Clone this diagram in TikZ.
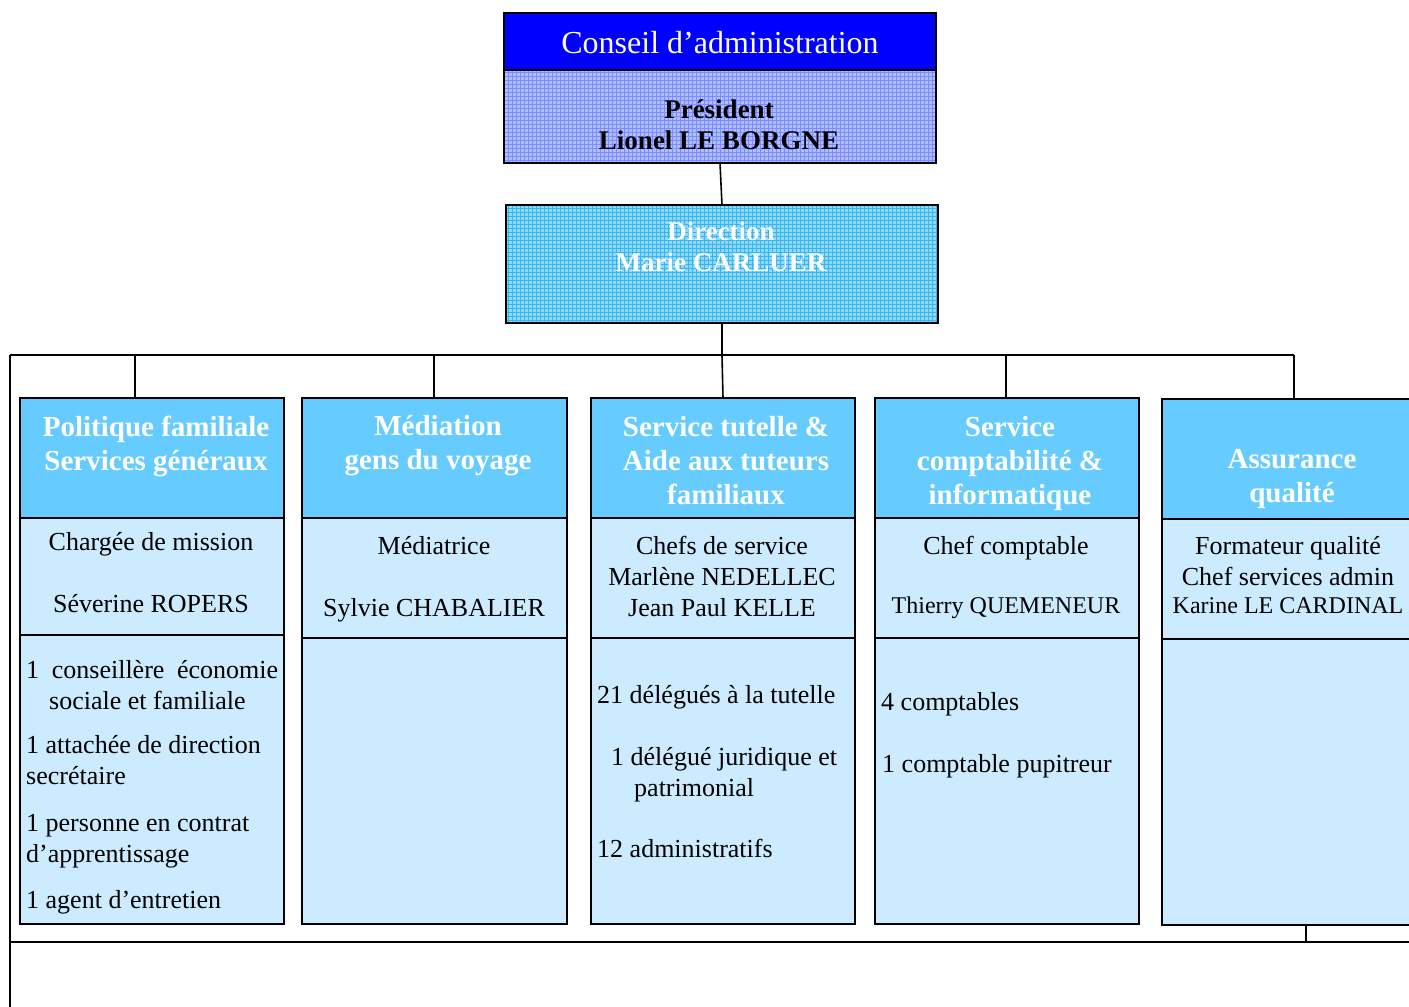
\documentclass[tikz,border=0pt]{standalone}
\usepackage{fontspec}
\setmainfont{Liberation Serif}
\definecolor{hdrblue}{HTML}{66CCFF}
\definecolor{bodyblue}{HTML}{CCEBFF}
\definecolor{darkblue}{HTML}{0000FF}
\definecolor{presfill}{HTML}{B0BDFF}
\definecolor{presgrid}{HTML}{7A8CFF}
\definecolor{dirfill}{HTML}{8FD8FF}
\definecolor{dirgrid}{HTML}{36B4EE}
\begin{document}
\begin{tikzpicture}[x=1pt,y=-1pt,
  boxline/.style={draw=black,line width=2pt},
  shape box/.style={inner sep=0pt,outer sep=0pt,anchor=north west},
  hdr/.style={shape box,boxline,fill=hdrblue,minimum height=120pt},
  bodybox/.style={shape box,boxline,fill=bodyblue},
  conn/.style={draw=black,line width=1.6pt},
  htxt/.style={text=white,font=\fontsize{29}{34}\selectfont\bfseries,align=center,inner sep=0pt},
  btxt/.style={font=\fontsize{26}{31}\selectfont,align=center,inner sep=0pt},
  stxt/.style={font=\fontsize{24}{30}\selectfont,align=center,inner sep=0pt},
  ltxt/.style={font=\fontsize{26}{31}\selectfont,anchor=west,inner sep=0pt,text height=18pt,text depth=6pt},
]
\clip (0,0) rectangle (1409,1007);
\fill[white] (0,0) rectangle (1409,1007);

% ---------- Conseil d'administration ----------
\node[shape box,fill=darkblue,minimum width=432pt,minimum height=57pt] (ca) at (504,13) {};
\node[shape box,fill=presfill,minimum width=432pt,minimum height=93pt] (cb) at (504,70) {};
\begin{scope}
  \clip (cb.north west) rectangle (cb.south east);
  \draw[presgrid,line width=0.7pt,step=4pt] (cb.north west) grid (cb.south east);
\end{scope}
\draw[boxline] (ca.north west) rectangle (cb.south east);
\draw[boxline] (ca.south west) -- (ca.south east);
\node[text=white,font=\fontsize{32}{38}\selectfont,inner sep=0pt] (catxt) at (720,43) {Conseil d’administration};
\node[font=\fontsize{27}{31}\selectfont\bfseries,align=center,inner sep=0pt] (cbtxt) at (719,125) {Président\\Lionel LE BORGNE};

% ---------- Direction ----------
\node[shape box,fill=dirfill,minimum width=432pt,minimum height=118pt] (dir) at (506,205) {};
\begin{scope}
  \clip (dir.north west) rectangle (dir.south east);
  \draw[dirgrid,line width=0.7pt,step=4pt] (dir.north west) grid (dir.south east);
\end{scope}
\draw[boxline] (dir.north west) rectangle (dir.south east);
\node[text=white,font=\fontsize{27}{31}\selectfont\bfseries,align=center,inner sep=0pt] (dirtxt) at (721,247) {Direction\\Marie CARLUER};

% ---------- Column boxes ----------
% column 1
\node[hdr,minimum width=264pt] (h1) at (20,398) {};
\node[bodybox,minimum width=264pt,minimum height=117pt] (m1) at (20,518) {};
\node[bodybox,minimum width=264pt,minimum height=289pt] (l1) at (20,635) {};
% column 2
\node[hdr,minimum width=265pt] (h2) at (302,398) {};
\node[bodybox,minimum width=265pt,minimum height=120pt] (m2) at (302,518) {};
\node[bodybox,minimum width=265pt,minimum height=286pt] (l2) at (302,638) {};
% column 3
\node[hdr,minimum width=264pt] (h3) at (591,398) {};
\node[bodybox,minimum width=264pt,minimum height=120pt] (m3) at (591,518) {};
\node[bodybox,minimum width=264pt,minimum height=286pt] (l3) at (591,638) {};
% column 4
\node[hdr,minimum width=264pt] (h4) at (875,398) {};
\node[bodybox,minimum width=264pt,minimum height=120pt] (m4) at (875,518) {};
\node[bodybox,minimum width=264pt,minimum height=286pt] (l4) at (875,638) {};
% column 5
\node[hdr,minimum width=264pt] (h5) at (1162,399) {};
\node[bodybox,minimum width=264pt,minimum height=120pt] (m5) at (1162,519) {};
\node[bodybox,minimum width=264pt,minimum height=286pt] (l5) at (1162,639) {};

% ---------- Connectors ----------
\coordinate (barL) at (10,355);
\coordinate (barR) at (1294,355);
\coordinate (d1) at (135,355);
\coordinate (d2) at (434,355);
\coordinate (d3) at (722,355);
\coordinate (d4) at (1006,355);
\coordinate (d5) at (1294,355);
\coordinate (leftEnd) at (10,1007);
\coordinate (botL) at (10,942);
\coordinate (botR) at (1409,942);
\coordinate (t5) at (1306,942);

\draw[conn] (cb.south) -- (dir.north);
\draw[conn] (dir.south) -- (d3) -- (h3.north);
\draw[conn] (barL) -- (barR);
\draw[conn] (barL) -- (leftEnd);
\draw[conn] (d1) -- (d1 |- h1.north);
\draw[conn] (d2) -- (d2 |- h2.north);
\draw[conn] (d4) -- (d4 |- h4.north);
\draw[conn] (d5) -- (h5.north);
\draw[conn] (botL) -- (botR);
\draw[conn] (t5 |- l5.south) -- (t5);

% ---------- Header texts ----------
\node[htxt] (h1t) at (156,446) {Politique familiale\\Services généraux};
\node[htxt] (h2t) at (438,446) {Médiation\\gens du voyage};
\node[htxt] (h3t) at (726,461) {Service tutelle \&\\Aide aux tuteurs\\familiaux};
\node[htxt] (h4t) at (1010,464) {Service\\comptabilité \&\\informatique};
\node[htxt] (h5t) at (1292,479) {Assurance\\qualité};

% ---------- Middle texts ----------
\node[btxt] (m1t) at (151,573) {Chargée de mission\\[31pt]Séverine ROPERS};
\node[btxt] (m2t) at (434,579) {Médiatrice\\[31pt]Sylvie CHABALIER};
\node[btxt] (m3t) at (722,576) {Chefs de service\\Marlène NEDELLEC\\Jean Paul KELLE};
\node[btxt] (m4a) at (1006,548) {Chef comptable};
\node[stxt] (m4b) at (1006,608) {Thierry QUEMENEUR};
\node[btxt] (m5t) at (1288,561) {Formateur qualité\\Chef services admin};
\node[stxt] (m5b) at (1288,606) {Karine LE CARDINAL};

% ---------- Lower texts ----------
\node[ltxt] (a1) at (26,672) {\makebox[252pt][s]{1 conseillère économie}};
\node[ltxt] (a2) at (49,703) {sociale et familiale};
\node[ltxt] (a3) at (26,747) {1 attachée de direction};
\node[ltxt] (a4) at (26,778) {secrétaire};
\node[ltxt] (a5) at (26,825) {1 personne en contrat};
\node[ltxt] (a6) at (26,856) {d’apprentissage};
\node[ltxt] (a7) at (26,902) {1 agent d’entretien};

\node[ltxt] (b1) at (597,697) {21 délégués à la tutelle};
\node[ltxt] (b2) at (611,759) {1 délégué juridique et};
\node[ltxt] (b3) at (634,790) {patrimonial};
\node[ltxt] (b4) at (597,851) {12 administratifs};

\node[ltxt] (c1) at (881,704) {4 comptables};
\node[ltxt] (c2) at (882,766) {1 comptable pupitreur};
\end{tikzpicture}
\end{document}
